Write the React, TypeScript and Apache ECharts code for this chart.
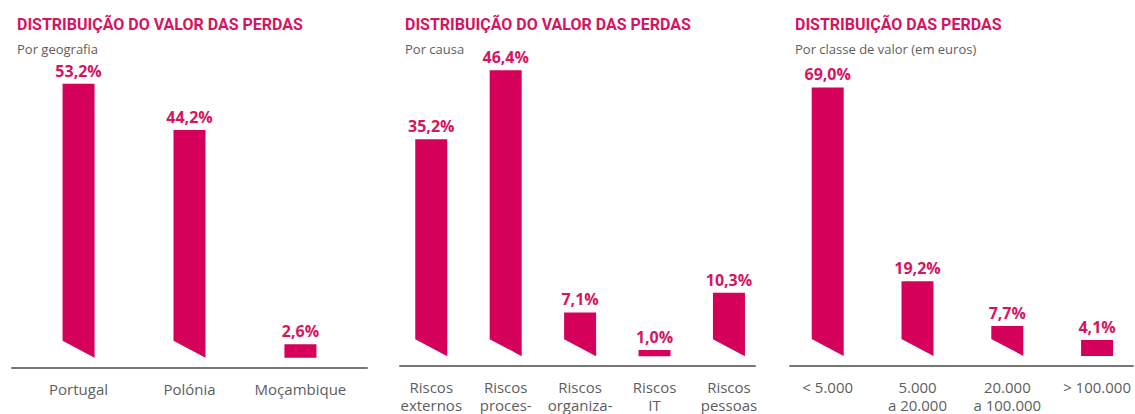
import React, { useEffect, useRef } from "react";
import * as echarts from "echarts";

const geoCategories = ["Portugal", "Polónia", "Moçambique"];
const geoValues = [53.2, 44.2, 2.6];

const causeCategories = ["Riscos\nexternos", "Riscos\nproces-", "Riscos\norganiza-", "Riscos\nIT", "Riscos\npessoas"];
const causeValues = [35.2, 46.4, 7.1, 1.0, 10.3];

const classCategories = ["< 5.000", "5.000\na 20.000", "20.000\na 100.000", "> 100.000"];
const classValues = [69.0, 19.2, 7.7, 4.1];

const titles = [
  { text: "DISTRIBUIÇÃO DO VALOR DAS PERDAS", sub: "Por geografia" },
  { text: "DISTRIBUIÇÃO DO VALOR DAS PERDAS", sub: "Por causa" },
  { text: "DISTRIBUIÇÃO DAS PERDAS", sub: "Por classe de valor (em euros)" },
];

const PINK = "#d4005a";
const LABEL_PINK = "#d6145f";
const GREY = "#5e5e5e";

const fmt = (v: number) => v.toFixed(1).replace(".", ",") + "%";

export default function App() {
  const ref = useRef<HTMLDivElement>(null);
  useEffect(() => {
    if (!ref.current) return;
    const chart = echarts.init(ref.current, undefined, { renderer: "svg" });

    const panels = [
      { cats: geoCategories, vals: geoValues, left: 12, width: 355, xmin: -0.6, xmax: 2.6, ymin: -2, ymax: 58, top: 59 },
      { cats: causeCategories, vals: causeValues, left: 400, width: 355, xmin: -0.42, xmax: 4.35, ymin: -1.6, ymax: 50, top: 48 },
      { cats: classCategories, vals: classValues, left: 790, width: 343, xmin: -0.42, xmax: 3.4, ymin: -2.6, ymax: 74, top: 68 },
    ];

    const renderItem = (params: any, api: any) => {
      const x = api.value(0);
      const v = api.value(1);
      const top = api.coord([x, v]);
      const base = api.coord([x, 0]);
      const w = 32;
      const h = base[1] - top[1];
      const slant = h > 25 ? 17 : 0;
      const l = top[0] - w / 2;
      const r = top[0] + w / 2;
      return {
        type: "group",
        children: [
          {
            type: "polygon",
            shape: { points: [[l, top[1]], [r, top[1]], [r, base[1]], [l, base[1] - slant]] },
            style: { fill: PINK },
          },
          {
            type: "text",
            x: top[0],
            y: top[1] - 5,
            style: {
              text: fmt(v),
              align: "center",
              verticalAlign: "bottom",
              fill: LABEL_PINK,
              font: "bold 16px 'Open Sans', sans-serif",
            },
          },
        ],
      };
    };

    const option: any = {
      animation: false,
      title: titles.flatMap((t, i) => [
        {
          text: t.text,
          left: panels[i].left,
          top: 11,
          textStyle: { fontFamily: "Roboto", fontWeight: "bold", fontSize: 16, color: LABEL_PINK },
        },
        {
          text: t.sub,
          left: panels[i].left,
          top: 37,
          textStyle: { fontFamily: "Open Sans", fontWeight: "normal", fontSize: 13, color: GREY },
        },
      ]),
      grid: panels.map((p) => ({ left: p.left, width: p.width, top: p.top, bottom: 46 })),
      xAxis: panels.map((p, i) => ({
        type: "value",
        gridIndex: i,
        min: p.xmin,
        max: p.xmax,
        splitLine: { show: false },
        axisTick: { show: false },
        axisLine: { show: true, onZero: false, lineStyle: { color: "#777", width: 2 } },
        axisLabel: {
          customValues: p.cats.map((_, k) => k),
          formatter: (val: number) => p.cats[Math.round(val)] ?? "",
          fontFamily: "Open Sans",
          fontSize: 15,
          color: GREY,
          lineHeight: 18,
          margin: 12,
          showMinLabel: true,
          showMaxLabel: true,
        },
      })),
      yAxis: panels.map((p, i) => ({
        type: "value",
        gridIndex: i,
        min: p.ymin,
        max: p.ymax,
        show: false,
        splitLine: { show: false },
      })),
      series: panels.map((p, i) => ({
        type: "custom",
        xAxisIndex: i,
        yAxisIndex: i,
        renderItem,
        data: p.vals.map((v, k) => [k, v]),
      })),
    };
    chart.setOption(option);
    return () => chart.dispose();
  }, []);
  return <div ref={ref} style={{ position: "fixed", left: 0, top: 0, width: 1135, height: 414, background: "#fff" }} />;
}
